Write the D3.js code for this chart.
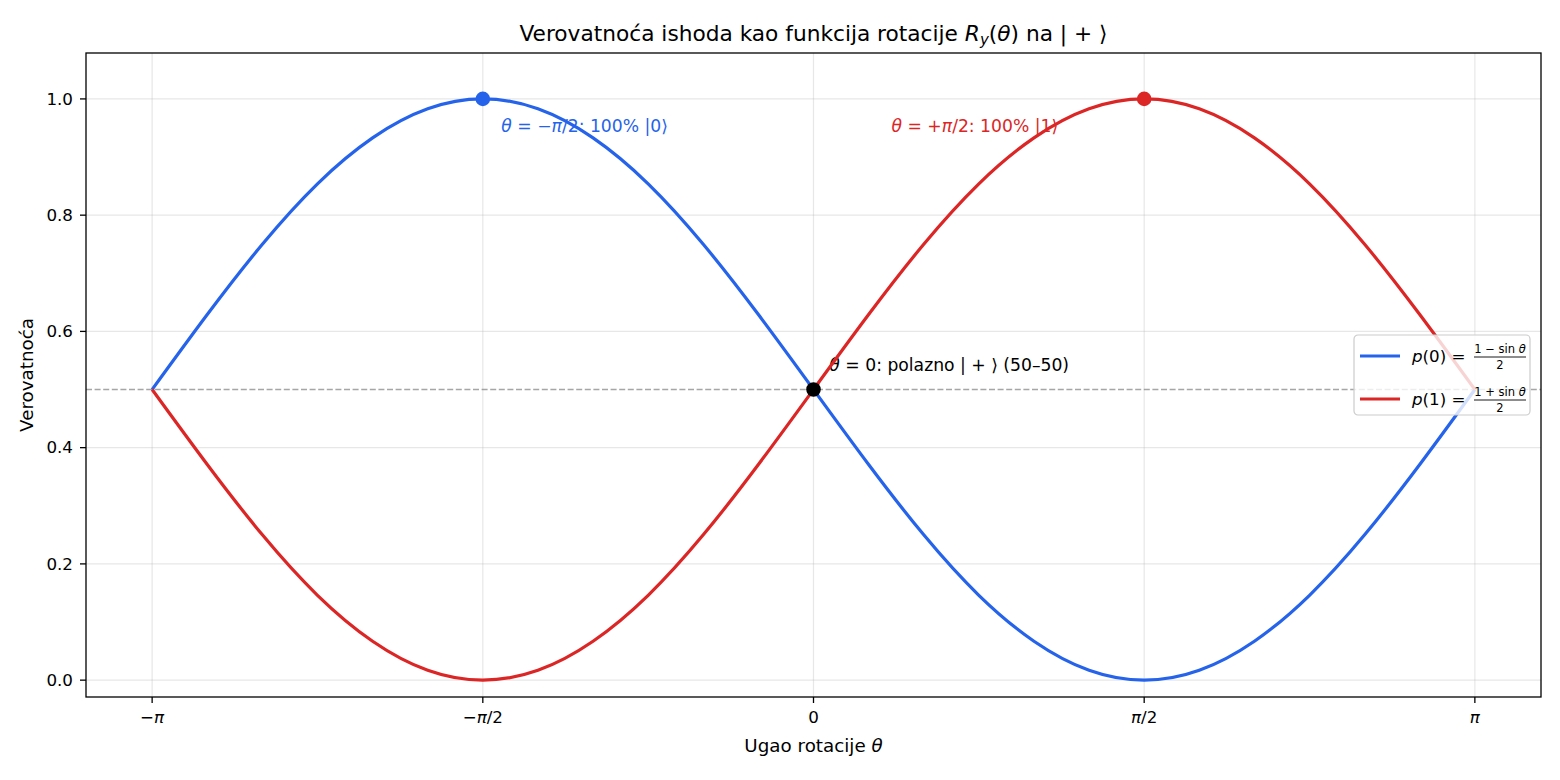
<!DOCTYPE html>
<html>
<head>
<meta charset="utf-8">
<script src="https://cdn.jsdelivr.net/npm/d3@7"></script>
<style>
  body { margin: 0; background: #fff; }
  svg { font-family: "DejaVu Sans", sans-serif; }
</style>
</head>
<body>
<div id="chart"></div>
<script>
  // angle in units of pi, every pi/12
  var thetaPi = [-1, -11/12, -10/12, -9/12, -8/12, -7/12, -6/12, -5/12, -4/12, -3/12, -2/12, -1/12, 0,
                 1/12, 2/12, 3/12, 4/12, 5/12, 6/12, 7/12, 8/12, 9/12, 10/12, 11/12, 1];
  var p0Values = [0.5, 0.629, 0.75, 0.854, 0.933, 0.983, 1.0, 0.983, 0.933, 0.854, 0.75, 0.629, 0.5,
                  0.371, 0.25, 0.146, 0.067, 0.017, 0.0, 0.017, 0.067, 0.146, 0.25, 0.371, 0.5];
  var p1Values = [0.5, 0.371, 0.25, 0.146, 0.067, 0.017, 0.0, 0.017, 0.067, 0.146, 0.25, 0.371, 0.5,
                  0.629, 0.75, 0.854, 0.933, 0.983, 1.0, 0.983, 0.933, 0.854, 0.75, 0.629, 0.5];
  var xTicks = [-1, -0.5, 0, 0.5, 1];
  var xTickLabels = [['−', 'π', ''], ['−', 'π', '/2'], ['0', '', ''], ['', 'π', '/2'], ['', 'π', '']];
  var yTicks = [0, 0.2, 0.4, 0.6, 0.8, 1.0];
  var markers = [
    { t: -0.5, p: 1.0, color: '#2563eb' },
    { t: 0.5, p: 1.0, color: '#dc2626' },
    { t: 0, p: 0.5, color: '#000000' }
  ];
  var notes = [
    { t: -0.472, p: 0.943, color: '#2563eb', parts: [['θ', 1], [' = −', 0], ['π', 1], ['/2: 100% |0⟩', 0]] },
    { t: 0.118, p: 0.943, color: '#dc2626', parts: [['θ', 1], [' = +', 0], ['π', 1], ['/2: 100% |1⟩', 0]] },
    { t: 0.024, p: 0.532, color: '#000000', parts: [['θ', 1], [' = 0: polazno | + ⟩ (50–50)', 0]] }
  ];

(function() {
  'use strict';

  var width = 1560, height = 780;
  var mLeft = 86, mRight = 1541, mTop = 53, mBottom = 697;
  var blue = '#2563eb', red = '#dc2626';

  var svg = d3.select('#chart').append('svg')
    .attr('width', width)
    .attr('height', height);

  var x = d3.scaleLinear().domain([-1.1, 1.1]).range([mLeft, mRight]);
  var y = d3.scaleLinear().domain([-0.029, 1.079]).range([mBottom, mTop]);

  // grid
  var grid = svg.append('g').attr('stroke', '#b0b0b0').attr('stroke-opacity', 0.3).attr('stroke-width', 1.2);
  grid.selectAll('.gx').data(xTicks).enter().append('line')
    .attr('x1', function(d) { return x(d); }).attr('x2', function(d) { return x(d); })
    .attr('y1', mTop).attr('y2', mBottom);
  grid.selectAll('.gy').data(yTicks).enter().append('line')
    .attr('y1', function(d) { return y(d); }).attr('y2', function(d) { return y(d); })
    .attr('x1', mLeft).attr('x2', mRight);

  // dashed 0.5 reference
  svg.append('line')
    .attr('x1', mLeft).attr('x2', mRight)
    .attr('y1', y(0.5)).attr('y2', y(0.5))
    .attr('stroke', '#808080').attr('stroke-opacity', 0.7)
    .attr('stroke-width', 1.5).attr('stroke-dasharray', '6,2.6');

  // annotations
  notes.forEach(function(n) {
    var t = svg.append('text')
      .attr('x', x(n.t)).attr('y', y(n.p))
      .attr('fill', n.color).attr('font-size', 17.2);
    n.parts.forEach(function(p) {
      t.append('tspan').attr('font-style', p[1] ? 'italic' : null).text(p[0]);
    });
  });

  // curves
  var line = d3.line().curve(d3.curveNatural)
    .x(function(d) { return x(d[0]); })
    .y(function(d) { return y(d[1]); });

  svg.append('path')
    .datum(d3.zip(thetaPi, p0Values))
    .attr('d', line).attr('fill', 'none')
    .attr('stroke', blue).attr('stroke-width', 3.2);
  svg.append('path')
    .datum(d3.zip(thetaPi, p1Values))
    .attr('d', line).attr('fill', 'none')
    .attr('stroke', red).attr('stroke-width', 3.2);

  svg.selectAll('.marker').data(markers).enter().append('circle')
    .attr('cx', function(d) { return x(d.t); })
    .attr('cy', function(d) { return y(d.p); })
    .attr('r', 7.3)
    .attr('fill', function(d) { return d.color; });

  // frame
  svg.append('rect')
    .attr('x', mLeft).attr('y', mTop)
    .attr('width', mRight - mLeft).attr('height', mBottom - mTop)
    .attr('fill', 'none').attr('stroke', '#000').attr('stroke-width', 1.3);

  // x axis
  var xt = svg.append('g');
  xTicks.forEach(function(d, i) {
    xt.append('line').attr('x1', x(d)).attr('x2', x(d))
      .attr('y1', mBottom).attr('y2', mBottom + 6)
      .attr('stroke', '#000').attr('stroke-width', 1.3);
    var lab = xTickLabels[i];
    var t = xt.append('text').attr('x', x(d)).attr('y', mBottom + 26)
      .attr('text-anchor', 'middle').attr('font-size', 16.7);
    if (lab[0]) t.append('tspan').text(lab[0]);
    if (lab[1]) t.append('tspan').attr('font-style', 'italic').text(lab[1]);
    if (lab[2]) t.append('tspan').text(lab[2]);
  });

  // y axis
  yTicks.forEach(function(d) {
    svg.append('line').attr('x1', mLeft - 6).attr('x2', mLeft)
      .attr('y1', y(d)).attr('y2', y(d))
      .attr('stroke', '#000').attr('stroke-width', 1.3);
    svg.append('text').attr('x', mLeft - 13).attr('y', y(d))
      .attr('dy', '0.35em').attr('text-anchor', 'end').attr('font-size', 16.7)
      .text(d3.format('.1f')(d));
  });

  // axis labels and title
  var xl = svg.append('text').attr('x', (mLeft + mRight) / 2).attr('y', 752)
    .attr('text-anchor', 'middle').attr('font-size', 18.3);
  xl.append('tspan').text('Ugao rotacije ');
  xl.append('tspan').attr('font-style', 'italic').text('θ');

  svg.append('text')
    .attr('transform', 'translate(33,' + ((mTop + mBottom) / 2) + ') rotate(-90)')
    .attr('text-anchor', 'middle').attr('font-size', 18.3)
    .text('Verovatnoća');

  var title = svg.append('text').attr('x', (mLeft + mRight) / 2).attr('y', 41)
    .attr('text-anchor', 'middle').attr('font-size', 21.7);
  title.append('tspan').text('Verovatnoća ishoda kao funkcija rotacije ');
  title.append('tspan').attr('font-style', 'italic').text('R');
  title.append('tspan').attr('font-style', 'italic').attr('font-size', 15).attr('dy', 4).text('y');
  title.append('tspan').attr('dy', -4).text('(');
  title.append('tspan').attr('font-style', 'italic').text('θ');
  title.append('tspan').text(') na | + ⟩');

  // legend
  var lg = svg.append('g').attr('transform', 'translate(1354,335)');
  lg.append('rect').attr('width', 176).attr('height', 80).attr('rx', 4)
    .attr('fill', '#fff').attr('fill-opacity', 0.8)
    .attr('stroke', '#ccc').attr('stroke-width', 1.2);
  var entries = [['0', '1 − sin ', blue], ['1', '1 + sin ', red]];
  entries.forEach(function(e, i) {
    var cy = 21 + i * 43;
    lg.append('line').attr('x1', 6).attr('x2', 46).attr('y1', cy).attr('y2', cy)
      .attr('stroke', e[2]).attr('stroke-width', 3.2);
    var t = lg.append('text').attr('x', 58).attr('y', cy + 6).attr('font-size', 16.7);
    t.append('tspan').attr('font-style', 'italic').text('p');
    t.append('tspan').text('(' + e[0] + ') =');
    var num = lg.append('text').attr('x', 146).attr('y', cy - 3)
      .attr('text-anchor', 'middle').attr('font-size', 11.5);
    num.append('tspan').text(e[1]);
    num.append('tspan').attr('font-style', 'italic').text('θ');
    lg.append('line').attr('x1', 120).attr('x2', 172).attr('y1', cy + 1).attr('y2', cy + 1)
      .attr('stroke', '#000').attr('stroke-width', 0.9);
    lg.append('text').attr('x', 146).attr('y', cy + 13)
      .attr('text-anchor', 'middle').attr('font-size', 11.5).text('2');
  });
})();
</script>
</body>
</html>
